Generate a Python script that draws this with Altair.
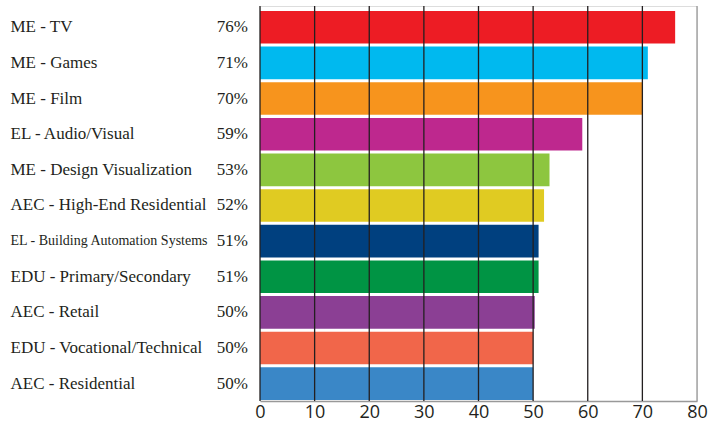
import altair as alt
import pandas as pd

categories = [
    "ME - TV", "ME - Games", "ME - Film", "EL - Audio/Visual",
    "ME - Design Visualization", "AEC - High-End Residential",
    "EL - Building Automation Systems", "EDU - Primary/Secondary",
    "AEC - Retail", "EDU - Vocational/Technical", "AEC - Residential",
]
values = [76, 71, 70, 59, 53, 52, 51, 51, 50.3, 50, 50]
pct_labels = ["76%", "71%", "70%", "59%", "53%", "52%", "51%", "51%", "50%", "50%", "50%"]
colors = ["#ED1C24", "#00B9EF", "#F7941D", "#BE288E", "#8DC63F", "#E0CB22",
          "#00407F", "#009444", "#8B3F94", "#F1664A", "#3A87C7"]
ticks = [0, 10, 20, 30, 40, 50, 60, 70, 80]

df = pd.DataFrame({"cat": categories, "val": values, "pct": pct_labels})
grid_df = pd.DataFrame({"v": ticks})

text_color = "#231F20"

y_enc = alt.Y(
    "cat:N", sort=categories, title=None,
    scale=alt.Scale(paddingInner=0.085, paddingOuter=0.084, align=0.83),
    axis=alt.Axis(
        labelAlign="left", labelPadding=250, ticks=False, domain=False,
        labelFont="Liberation Serif",
        labelFontSize={"condition": {"test": "datum.value == 'EL - Building Automation Systems'", "value": 14}, "value": 17},
        labelColor=text_color, labelLimit=400,
    ),
)

x_scale = alt.Scale(domain=[0, 80], nice=False)

bars = alt.Chart(df).mark_bar().encode(
    y=y_enc,
    x=alt.X("val:Q", scale=x_scale, title=None,
            axis=alt.Axis(values=ticks, grid=False, ticks=False, domainColor="#999999",
                          domainWidth=1.5, labelFont="Open Sans", labelFontSize=18,
                          labelColor=text_color, labelPadding=2, labelFlush=False,
                          labelOverlap=False)),
    color=alt.Color("cat:N", scale=alt.Scale(domain=categories, range=colors), legend=None),
)

pct = alt.Chart(df).mark_text(
    align="right", baseline="middle", font="Liberation Serif", fontSize=17, color=text_color
).encode(
    y=alt.Y("cat:N", sort=categories),
    x=alt.value(-12),
    text="pct:N",
)

rules = alt.Chart(grid_df).mark_rule(strokeWidth=1.3).encode(
    x=alt.X("v:Q", scale=x_scale),
    color=alt.condition("datum.v == 80", alt.value("#999999"), alt.value("#231F20")),
)

chart = alt.layer(bars, pct, rules).properties(
    width=437, height=395,
    padding={"left": 260, "top": 6, "right": 12, "bottom": 22},
    autosize=alt.AutoSizeParams(type="none"),
).configure_view(stroke=None).configure(background="white")

chart.save("out.html", embed_options={"renderer": "svg", "actions": False})
